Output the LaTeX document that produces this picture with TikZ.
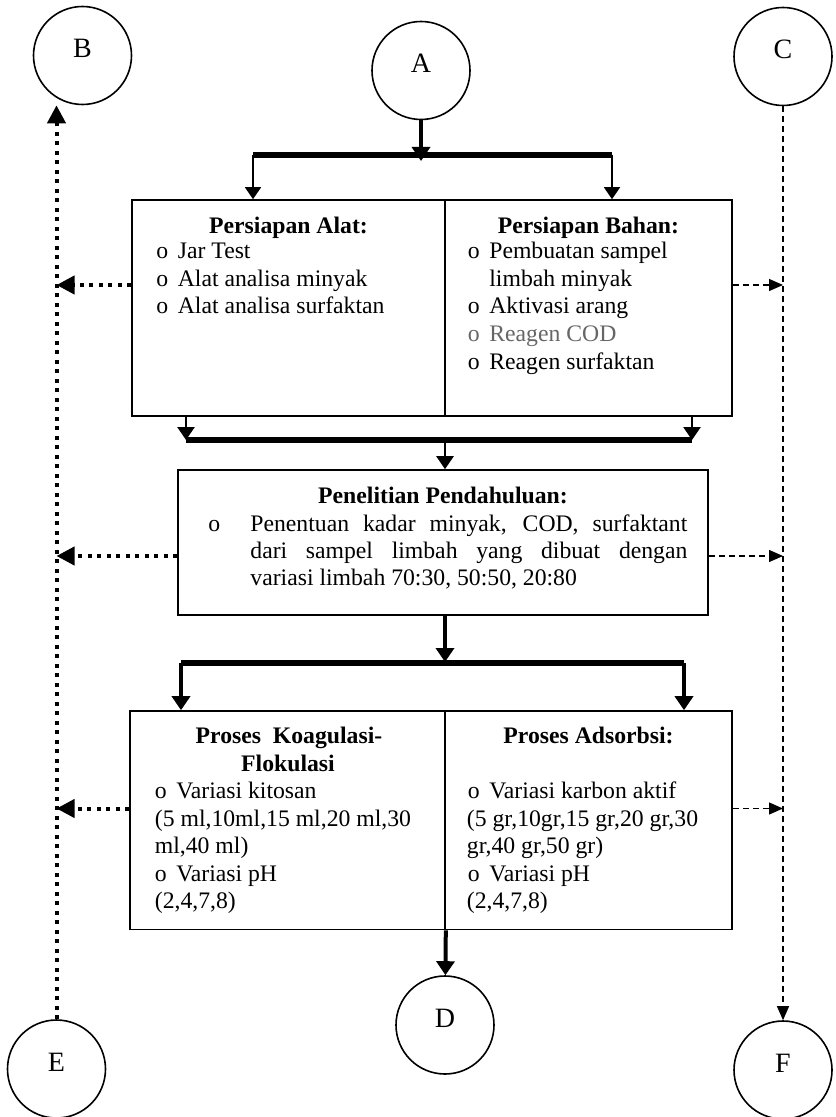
\documentclass[tikz,border=0pt]{standalone}
\usepackage{fontspec}
\setmainfont{Liberation Serif}
\usetikzlibrary{arrows.meta,calc}
\begin{document}
\begin{tikzpicture}[x=0.5pt,y=-0.5pt,
  circ/.style={draw,line width=0.8pt,circle,minimum size=49pt,inner sep=0pt},
  letter/.style={inner sep=0pt,font=\fontsize{14}{16}\selectfont},
  boxs/.style={draw,line width=0.8pt,rectangle,inner sep=0pt},
  txt/.style={inner sep=0pt,font=\fontsize{11.85}{13.75}\selectfont},
  item/.style={txt,anchor=base west},
  ttl/.style={txt,anchor=base,font=\fontsize{11.85}{13.75}\selectfont\bfseries},
  bar/.style={line width=2.6pt},
  thickarrow/.style={line width=2pt,-{Triangle[length=7pt,width=9pt]}},
  medarrow/.style={line width=1.3pt,-{Triangle[length=6.5pt,width=8.5pt]}},
  thinarrow/.style={line width=0.8pt,-{Triangle[length=6pt,width=8pt]}},
  dotline/.style={line width=2pt,dash pattern=on 2pt off 2.75pt},
  dotarrow/.style={dotline,-{Triangle[length=9pt,width=9pt]}},
  dashline/.style={line width=0.6pt,dash pattern=on 3pt off 2pt},
  dasharrow/.style={dashline,-{Triangle[length=7pt,width=6pt]}}
]
\useasboundingbox (0,0) rectangle (835,1117);

% circles
\node[circ] (B) at (82.5,55.5) {};
\node[circ] (A) at (421,70.5) {};
\node[circ] (C) at (783,56.5) {};
\node[circ] (D) at (445,1025) {};
\node[circ] (E) at (56.5,1069) {};
\node[circ] (F) at (783,1070) {};
\node[letter] (tB) at ([yshift=3.5pt]B.center) {B};
\node[letter] (tA) at ([yshift=3.5pt]A.center) {A};
\node[letter] (tC) at ([yshift=3.5pt]C.center) {C};
\node[letter] (tD) at ([yshift=3.5pt]D.center) {D};
\node[letter] (tE) at ([yshift=3.5pt]E.center) {E};
\node[letter] (tF) at ([yshift=3.5pt]F.center) {F};

% boxes
\node[boxs,minimum width=156.5pt,minimum height=108pt] (b1L) at (288.5,308) {};
\node[boxs,minimum width=143.5pt,minimum height=108pt] (b1R) at (588.5,308) {};
\node[boxs,minimum width=265pt,minimum height=72.5pt] (b2) at (443,542.5) {};
\node[boxs,minimum width=157.5pt,minimum height=109.25pt] (b3L) at (287.5,820.25) {};
\node[boxs,minimum width=143.5pt,minimum height=109.25pt] (b3R) at (588.5,820.25) {};

% box 1 texts
\node[ttl] (t1) at (288.5,234) {Persiapan Alat:};
\node[item] (i11) at (156,259) {o\hspace{4.8pt}Jar Test};
\node[item] (i12) at (156,286.5) {o\hspace{4.8pt}Alat analisa minyak};
\node[item] (i13) at (156,314) {o\hspace{4.8pt}Alat analisa surfaktan};
\node[ttl] (t2) at (588.5,234) {Persiapan Bahan:};
\node[item] (i21) at (467.5,259) {o\hspace{4.8pt}Pembuatan sampel};
\node[item] (i22) at (489,286.5) {limbah minyak};
\node[item] (i23) at (467.5,314) {o\hspace{4.8pt}Aktivasi arang};
\node[item,text=black!60] (i24) at (467.5,341.5) {o\hspace{4.8pt}Reagen COD};
\node[item] (i25) at (467.5,369) {o\hspace{4.8pt}Reagen surfaktan};

% box 2 texts
\node[ttl] (t3) at (443,503) {Penelitian Pendahuluan:};
\node[item] (bl) at (208,531) {o};
\node[item] (l1) at (250,531) {\makebox[218.5pt][s]{Penentuan kadar minyak, COD, surfaktant}};
\node[item] (l2) at (250,558) {\makebox[218.5pt][s]{dari sampel limbah yang dibuat dengan}};
\node[item] (l3) at (250,585) {variasi limbah 70:30, 50:50, 20:80};

% box 3 texts
\node[ttl] (t4) at (289,743.5) {Proses\ \ Koagulasi-};
\node[ttl] (t5) at (288,771.5) {Flokulasi};
\node[item] (k1) at (154.5,798.5) {o\hspace{4.8pt}Variasi kitosan};
\node[item] (k2) at (154.5,826.5) {(5 ml,10ml,15 ml,20 ml,30};
\node[item] (k3) at (154.5,853.5) {ml,40 ml)};
\node[item] (k4) at (154.5,881.5) {o\hspace{4.8pt}Variasi pH};
\node[item] (k5) at (154.5,908.5) {(2,4,7,8)};
\node[ttl] (t6) at (588.5,743.5) {Proses Adsorbsi:};
\node[item] (a1) at (467.5,798.5) {o\hspace{4.8pt}Variasi karbon aktif};
\node[item] (a2) at (466.5,826.5) {(5 gr,10gr,15 gr,20 gr,30};
\node[item] (a3) at (466.5,853.5) {gr,40 gr,50 gr)};
\node[item] (a4) at (467.5,881.5) {o\hspace{4.8pt}Variasi pH};
\node[item] (a5) at (466.5,908.5) {(2,4,7,8)};

% junction coordinates
\coordinate (j1L) at (253,155);
\coordinate (j1R) at (612,155);
\coordinate (j1M) at (421,161);
\coordinate (j2L) at (186,440);
\coordinate (j2R) at (692,440);
\coordinate (j2M) at (445,441);
\coordinate (j3L) at (181,663);
\coordinate (j3R) at (684,663);
\coordinate (j3M) at (445,662);

% main flow
\draw[bar] (j1L) -- (j1R);
\draw[thickarrow] (A) -- (j1M);
\draw[thinarrow] (j1L) -- (j1L |- b1L.north);
\draw[thinarrow] (j1R) -- (j1R |- b1R.north);
\draw[medarrow] (b1L.south -| j2L) -- (j2L);
\draw[medarrow] (b1R.south -| j2R) -- (j2R);
\draw[bar] (j2L) -- (j2R);
\draw[medarrow] (j2M) -- (j2M |- b2.north);
\draw[thickarrow] (b2.south -| j3M) -- (j3M);
\draw[bar] (j3L) -- (j3R);
\draw[thickarrow] (j3L) -- (j3L |- b3L.north);
\draw[thickarrow] (j3R) -- (j3R |- b3R.north);
\draw[thickarrow] (b3L.south east) -- (D);

% left dotted feedback
\coordinate (L1) at (56.5,285);
\coordinate (L2) at (56.5,556);
\coordinate (L3) at (56.5,808.5);
\draw[dotarrow] (E) -- (E |- B.south);
\draw[dotarrow] (b1L.west |- L1) -- (L1);
\draw[dotarrow] (b2.west |- L2) -- (L2);
\draw[dotarrow] (b3L.west |- L3) -- (L3);

% right dashed line
\coordinate (R1) at (783,285);
\coordinate (R2) at (783,556);
\coordinate (R3) at (783,808.5);
\draw[dasharrow] (C) -- (F);
\draw[dasharrow] (b1R.east |- R1) -- (R1);
\draw[dasharrow] (b2.east |- R2) -- (R2);
\draw[dasharrow] (b3R.east |- R3) -- (R3);
\end{tikzpicture}
\end{document}
